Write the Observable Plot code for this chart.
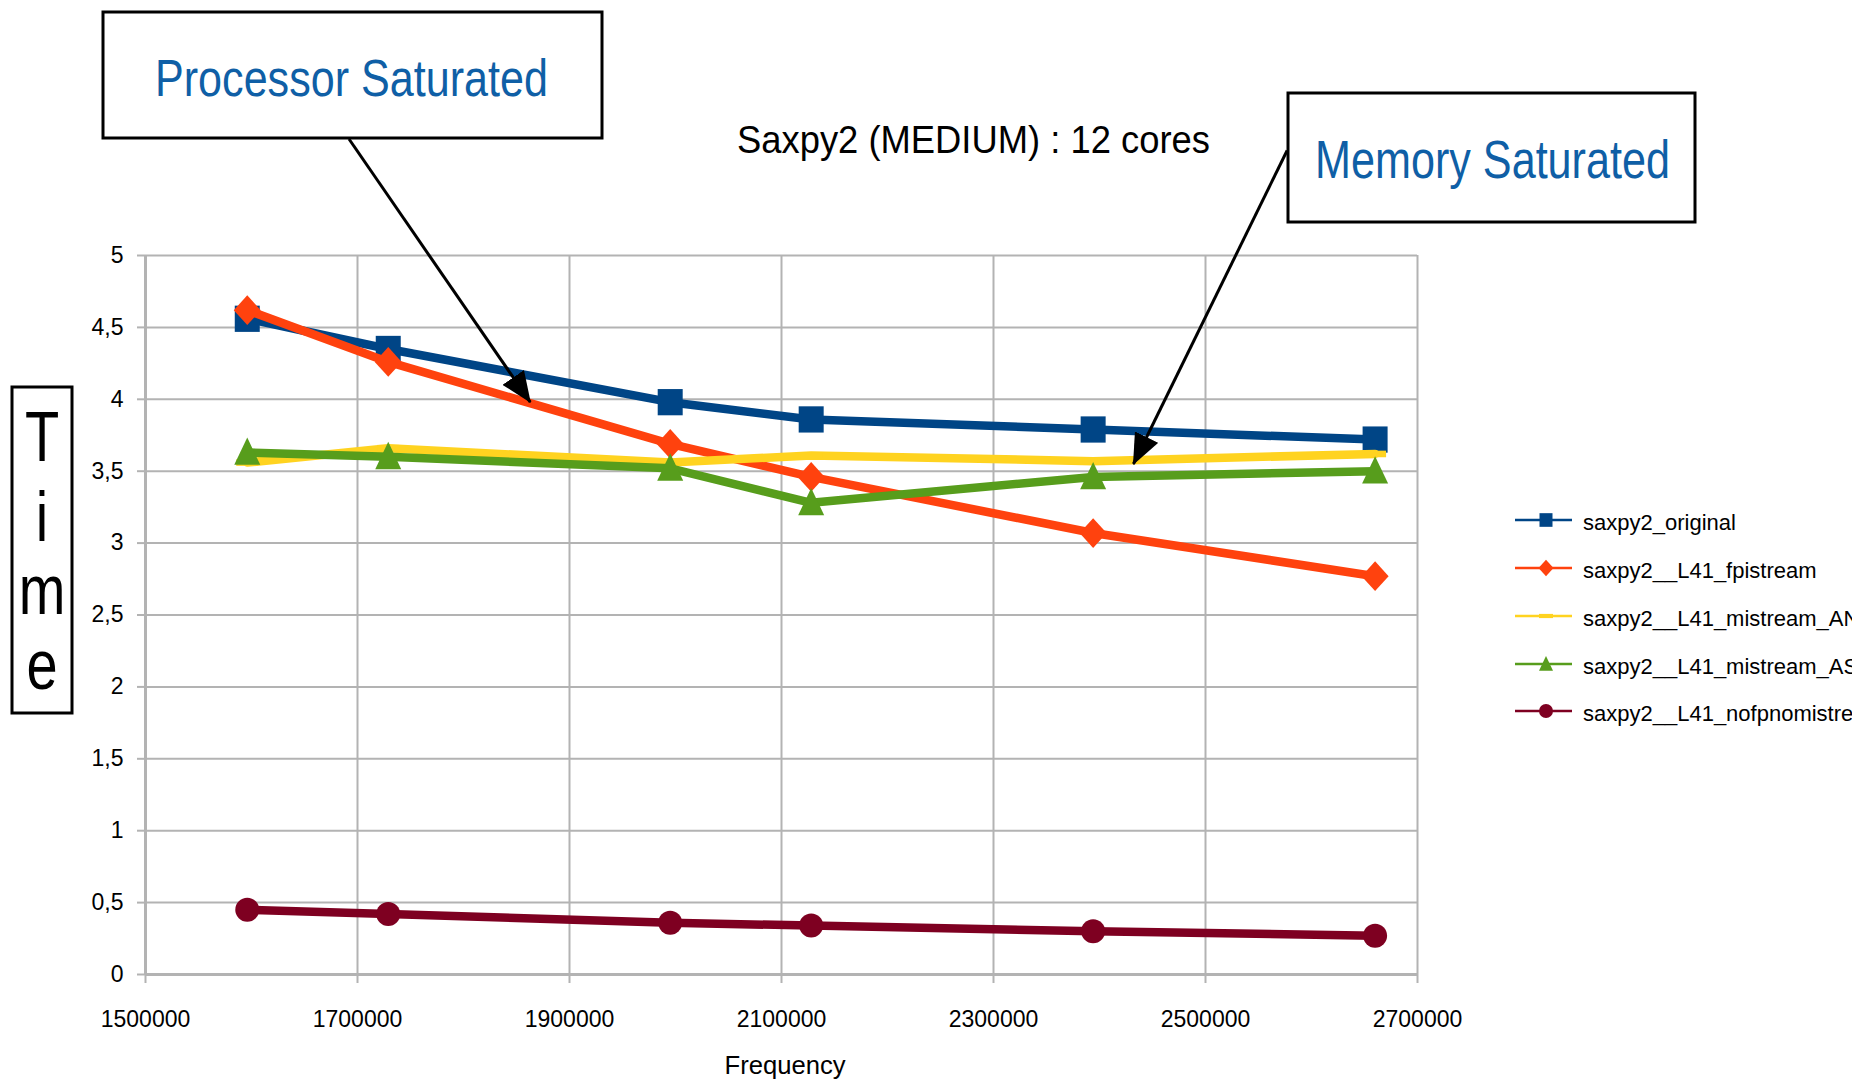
<!DOCTYPE html>
<html><head><meta charset="utf-8">
<script src="https://cdn.jsdelivr.net/npm/d3@7"></script>
<script src="https://cdn.jsdelivr.net/npm/@observablehq/plot@0.6"></script>
<style>
html,body{margin:0;padding:0;background:#fff;}
#wrap{position:relative;width:1852px;height:1080px;overflow:hidden;background:#fff;}
#wrap svg{position:absolute;left:0;top:0;}
</style></head><body><div id="wrap"></div>
<script>
// ---- data ----
const frequencies = [1596000, 1729000, 1995000, 2128000, 2394000, 2660000];
const seriesNames = ["saxpy2_original", "saxpy2__L41_fpistream", "saxpy2__L41_mistream_AN", "saxpy2__L41_mistream_AS", "saxpy2__L41_nofpnomistream"];
const seriesColors = ["#004586", "#ff420e", "#ffd320", "#579d1c", "#7e0021"];
const saxpy2_original = [4.56, 4.35, 3.98, 3.86, 3.79, 3.72];
const saxpy2_fpistream = [4.62, 4.26, 3.69, 3.46, 3.07, 2.77];
const saxpy2_mistream_AN = [3.56, 3.66, 3.56, 3.61, 3.57, 3.62];
const saxpy2_mistream_AS = [3.63, 3.60, 3.52, 3.28, 3.46, 3.50];
const saxpy2_nofpnomistream = [0.45, 0.42, 0.36, 0.34, 0.30, 0.27];
const xTicks = [1500000, 1700000, 1900000, 2100000, 2300000, 2500000, 2700000];
const yTicks = [0, 0.5, 1, 1.5, 2, 2.5, 3, 3.5, 4, 4.5, 5];
const titleText = "Saxpy2 (MEDIUM) : 12 cores";
const xLabel = "Frequency";
const yLabel = "Time";
const calloutTexts = ["Processor Saturated", "Memory Saturated"];
const arrowStartX = [1692000, 2577000];
const arrowStartY = [5.81, 5.73];
const arrowEndX = [1863000, 2432000];
const arrowEndY = [3.98, 3.55];

const seriesValues = [saxpy2_original, saxpy2_fpistream, saxpy2_mistream_AN, saxpy2_mistream_AS, saxpy2_nofpnomistream];
const table = seriesValues.flatMap((vals, s) => vals.map((v, i) => ({series: seriesNames[s], s, freq: frequencies[i], time: v})));
const arrows = calloutTexts.map((t, i) => ({t, x1: arrowStartX[i], y1: arrowStartY[i], x2: arrowEndX[i], y2: arrowEndY[i]}));

// ---- symbols ----
const symSquare = {draw(c, size){ const r = Math.sqrt(size/Math.PI); c.moveTo(-r,-r*1.05); c.lineTo(r,-r*1.05); c.lineTo(r,r*1.05); c.lineTo(-r,r*1.05); c.closePath(); }};
const symDiamond = {draw(c, size){ const r = Math.sqrt(size/Math.PI); c.moveTo(0,-r*1.1); c.lineTo(r,0); c.lineTo(0,r*1.1); c.lineTo(-r,0); c.closePath(); }};
const symBar = {draw(c, size){ const r = Math.sqrt(size/Math.PI); c.moveTo(-r,-r*0.3); c.lineTo(r,-r*0.3); c.lineTo(r,r*0.3); c.lineTo(-r,r*0.3); c.closePath(); }};
const symTriangle = {draw(c, size){ const r = Math.sqrt(size/Math.PI); c.moveTo(0,-r*1.15); c.lineTo(r,r*0.95); c.lineTo(-r,r*0.95); c.closePath(); }};
const symCircle = {draw(c, size){ const r = Math.sqrt(size/Math.PI); c.moveTo(r,0); c.arc(0,0,r,0,2*Math.PI); c.closePath(); }};
const seriesSymbols = [symSquare, symDiamond, symBar, symTriangle, symCircle];
const seriesR = [12.5, 13.5, 11, 13, 12];

function filledArrow(color) {
  const m = d3.create("svg:marker")
    .attr("viewBox", "-30 -13 31 26").attr("markerWidth", 31).attr("markerHeight", 26)
    .attr("markerUnits", "userSpaceOnUse").attr("orient", "auto").attr("refX", 0).attr("refY", 0)
    .attr("fill", color).attr("stroke", "none");
  m.append("path").attr("d", "M-30,-13L1,0L-30,13Z");
  return m.node();
}

const grid = "#b3b3b3";
const marks = [
  Plot.ruleX(xTicks, {stroke: grid, strokeWidth: 2}),
  Plot.ruleY(yTicks, {stroke: grid, strokeWidth: 2}),
  Plot.ruleX([xTicks[0]], {stroke: grid, strokeWidth: 3}),
  Plot.ruleY([0], {stroke: grid, strokeWidth: 3}),
  Plot.axisX({ticks: xTicks, tickSize: 9, tickPadding: 27, tickFormat: d => String(d), stroke: grid, strokeWidth: 2, label: null, fontSize: 23}),
  Plot.axisY({ticks: yTicks, tickSize: 8, tickPadding: 14, tickFormat: d => String(d).replace(".", ","), stroke: grid, strokeWidth: 2, label: null, fontSize: 23})
];
seriesNames.forEach((name, s) => {
  const d = table.filter(r => r.s === s);
  marks.push(Plot.line(d, {x: "freq", y: "time", stroke: seriesColors[s], strokeWidth: 8.5, strokeLinejoin: "round"}));
  marks.push(Plot.dot(d, {x: "freq", y: "time", fill: seriesColors[s], stroke: "none", symbol: seriesSymbols[s], r: seriesR[s]}));
});
marks.push(Plot.link(arrows, {x1: "x1", y1: "y1", x2: "x2", y2: "y2", stroke: "black", strokeWidth: 3, markerEnd: filledArrow}));

const chart = Plot.plot({
  width: 1852, height: 1080,
  marginLeft: 145, marginRight: 435, marginTop: 255, marginBottom: 106,
  style: {fontFamily: "'Liberation Sans', Arial, sans-serif", fontSize: "23px", background: "transparent", color: "black", overflow: "visible"},
  x: {domain: [1500000, 2700000]},
  y: {domain: [0, 5]},
  marks
});
const wrap = document.getElementById("wrap");
wrap.appendChild(chart);

// ---- overlay annotations: title, callout boxes, axis titles, legend ----
const ov = d3.select(wrap).append("svg").attr("width", 1852).attr("height", 1080)
  .style("font-family", "'Liberation Sans', Arial, sans-serif");

ov.append("text").attr("x", 737).attr("y", 153).attr("font-size", 38)
  .attr("textLength", 473).attr("lengthAdjust", "spacingAndGlyphs").text(titleText);

const boxes = [
  {x: 103, y: 12, w: 499, h: 126, tx: 155, ty: 96, fs: 52, tl: 393},
  {x: 1288, y: 93, w: 407, h: 129, tx: 1315, ty: 178, fs: 53, tl: 355}
];
boxes.forEach((b, i) => {
  ov.append("rect").attr("x", b.x).attr("y", b.y).attr("width", b.w).attr("height", b.h)
    .attr("fill", "white").attr("stroke", "black").attr("stroke-width", 3);
  ov.append("text").attr("x", b.tx).attr("y", b.ty).attr("font-size", b.fs).attr("fill", "#0f5fa6")
    .attr("textLength", b.tl).attr("lengthAdjust", "spacingAndGlyphs").text(calloutTexts[i]);
});

ov.append("text").attr("x", 785).attr("y", 1074).attr("font-size", 26).attr("text-anchor", "middle")
  .attr("textLength", 121).attr("lengthAdjust", "spacingAndGlyphs").text(xLabel);

ov.append("rect").attr("x", 12).attr("y", 387).attr("width", 60).attr("height", 326)
  .attr("fill", "white").attr("stroke", "black").attr("stroke-width", 3);
const baselines = [461, 541, 614, 689];
yLabel.split("").forEach((ch, i) => {
  ov.append("text").attr("transform", `translate(42,${baselines[i]}) scale(0.8,1)`)
    .attr("font-size", 70).attr("text-anchor", "middle").text(ch);
});

const legY = [520, 568, 616, 664, 711];
const legR = [6.5, 7.5, 7, 7, 7];
seriesNames.forEach((name, s) => {
  const g = ov.append("g").attr("transform", `translate(0,${legY[s]})`);
  g.append("line").attr("x1", 1515).attr("x2", 1572).attr("y1", 0).attr("y2", 0)
    .attr("stroke", seriesColors[s]).attr("stroke-width", 2.5);
  g.append("path").attr("transform", "translate(1546,0)")
    .attr("d", d3.symbol(seriesSymbols[s], Math.PI * legR[s] * legR[s])()).attr("fill", seriesColors[s]);
  g.append("text").attr("x", 1583).attr("y", 10).attr("font-size", 22).text(name);
});
</script></body></html>
